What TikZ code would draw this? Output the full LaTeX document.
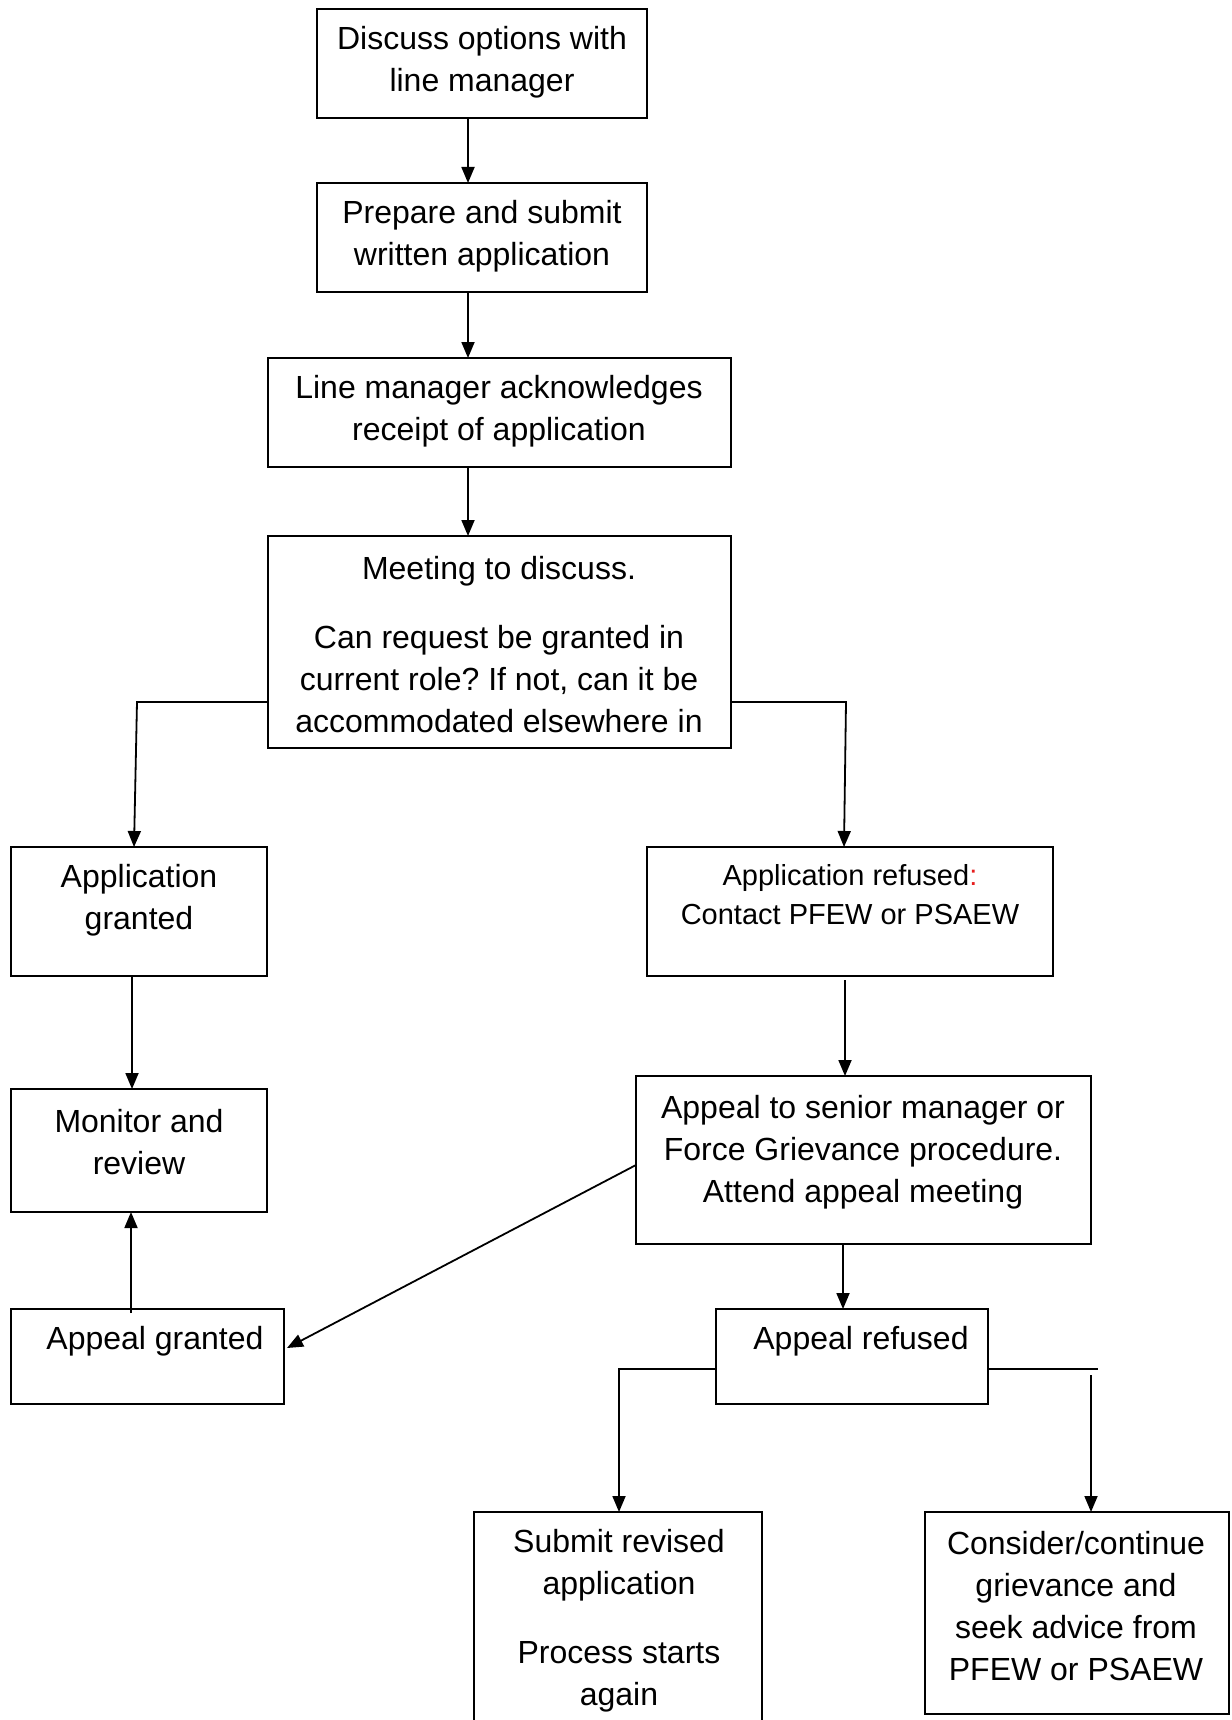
\documentclass[tikz,border=0pt]{standalone}
\usepackage{fontspec}
\setmainfont{Liberation Sans}
\usetikzlibrary{arrows.meta}
\definecolor{redcolon}{RGB}{230,30,30}
\frenchspacing
\tikzset{
  box/.style={draw, line width=1.8pt, inner sep=0pt, outer sep=0pt, rectangle},
  txt/.style={align=center, font=\frenchspacing\fontsize{32}{42}\selectfont, inner sep=0pt},
  smalltxt/.style={align=center, font=\frenchspacing\fontsize{29}{39}\selectfont, inner sep=0pt},
  arr/.style={-{Triangle[length=16pt,width=13pt]}, line width=1.8pt},
  ln/.style={line width=1.8pt}
}
\begin{document}
\begin{tikzpicture}[x=1pt,y=-1pt]
\useasboundingbox (0,0) rectangle (1231,1720);
\clip (0,0) rectangle (1231,1720);
\fill[white] (0,0) rectangle (1231,1720);
% boxes
\node[box, minimum width=330pt, minimum height=109pt] (b1) at (482,63.5) {};
\node[box, minimum width=330pt, minimum height=109pt] (b2) at (482,237.5) {};
\node[box, minimum width=463pt, minimum height=109pt] (b3) at (499.5,412.5) {};
\node[box, minimum width=463pt, minimum height=212pt] (b4) at (499.5,642) {};
\node[box, minimum width=256pt, minimum height=129pt] (b5) at (139,911.5) {};
\node[box, minimum width=406pt, minimum height=129pt] (b6) at (850,911.5) {};
\node[box, minimum width=256pt, minimum height=123pt] (b7) at (139,1150.5) {};
\node[box, minimum width=455pt, minimum height=168pt] (b8) at (863.5,1160) {};
\node[box, minimum width=273pt, minimum height=95pt] (b9) at (147.5,1356.5) {};
\node[box, minimum width=272pt, minimum height=95pt] (b10) at (852,1356.5) {};
\node[box, minimum width=288pt, minimum height=230pt] (b11) at (618,1627) {};
\node[box, minimum width=304pt, minimum height=202pt] (b12) at (1077,1613) {};
% texts
\node[txt] (t1) at (482,62) {Discuss options with\\line manager};
\node[txt] (t2) at (482,236.5) {Prepare and submit\\written application};
\node[txt] (t3) at (499,411) {Line manager acknowledges\\receipt of application};
\node[txt] (t4) at (499,645) {Meeting to discuss.\\[27pt]Can request be granted in\\current role? If not, can it be\\accommodated elsewhere in};
\node[txt] (t5) at (139,900.5) {Application\\granted};
\node[smalltxt] (t6) at (850,895) {Application refused\textcolor{redcolon}{:}\\Contact PFEW or PSAEW};
\node[txt] (t7) at (139,1142) {Monitor and\\review};
\node[txt] (t8) at (863,1152) {Appeal to senior manager or\\Force Grievance procedure.\\Attend appeal meeting};
\node[txt] (t9) at (155,1341) {Appeal granted};
\node[txt] (t10) at (861,1341) {Appeal refused};
\node[txt] (t11) at (619,1621) {Submit revised\\application\\[27pt]Process starts\\again};
\node[txt] (t12) at (1076,1606) {Consider/continue\\grievance and\\seek advice from\\PFEW or PSAEW};
% connectors
\draw[arr] ([xshift=-14pt]b1.south) -- ([xshift=-14pt]b2.north);
\draw[arr] ([xshift=-14pt]b2.south) -- ([xshift=-31.5pt]b3.north);
\draw[arr] ([xshift=-31.5pt]b3.south) -- ([xshift=-31.5pt]b4.north);
\coordinate (cl) at (137,702);
\coordinate (cr) at (846,702);
\draw[arr] ([yshift=-60pt]b4.west) -- (cl) -- ([xshift=-5pt]b5.north);
\draw[arr] ([yshift=-60pt]b4.east) -- (cr) -- ([xshift=-6pt]b6.north);
\draw[arr] ([xshift=-7pt]b5.south) -- ([xshift=-7pt]b7.north);
\draw[arr] ([xshift=-5pt,yshift=-4pt]b6.south) -- ([xshift=-18.5pt]b8.north);
\draw[arr] ([xshift=-16.5pt,yshift=-4pt]b9.north) -- ([xshift=-8pt]b7.south);
\draw[arr] ([yshift=-5pt]b8.west) -- ([xshift=3pt,yshift=8.5pt]b9.east);
\draw[arr] ([xshift=-20.5pt]b8.south) -- ([xshift=-9pt]b10.north);
\coordinate (c10l) at (619,1369);
\draw[arr] ([yshift=-12.5pt]b10.west) -- (c10l) -- (c10l |- b11.north);
\coordinate (c10r) at (1098,1369);
\draw[ln] ([yshift=-12.5pt]b10.east) -- (c10r);
\coordinate (c12s) at (1091,1375);
\draw[arr] (c12s) -- (c12s |- b12.north);
\end{tikzpicture}
\end{document}
